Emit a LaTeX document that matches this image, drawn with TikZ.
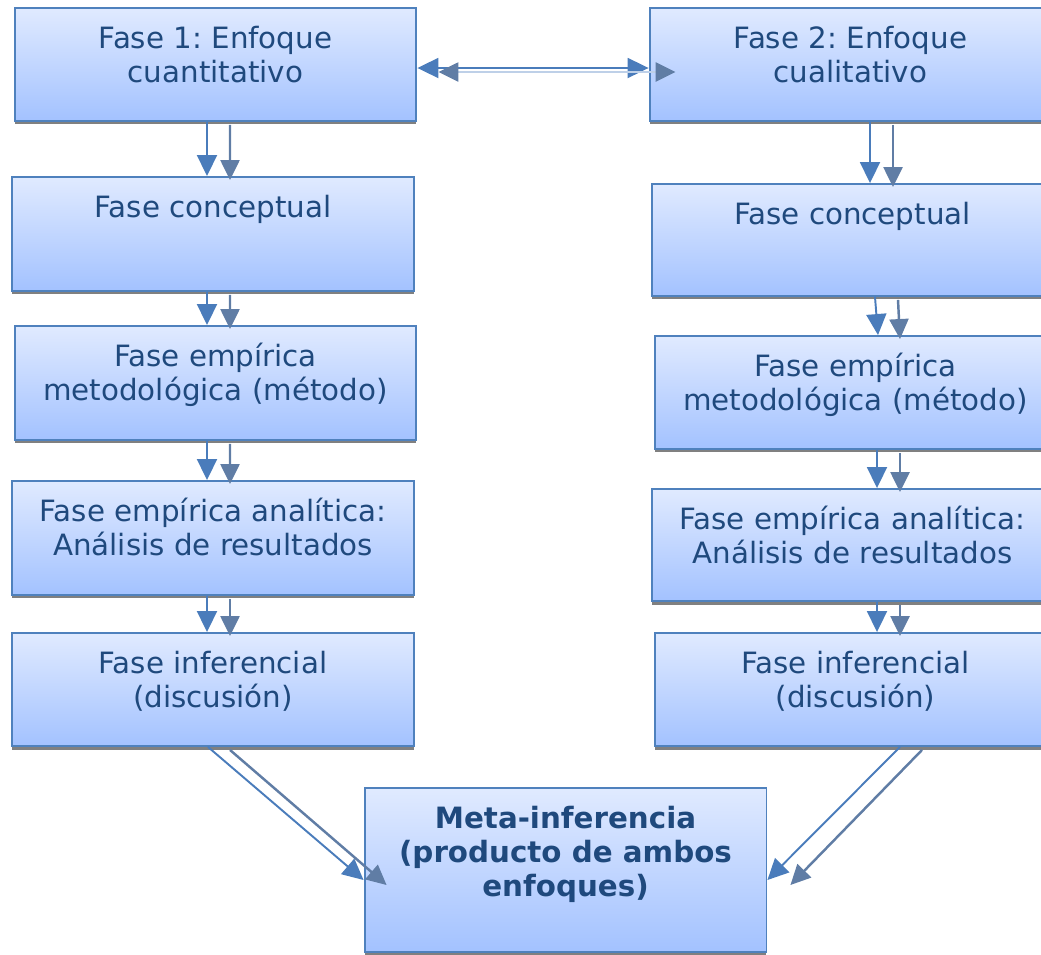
\documentclass[tikz,border=0pt]{standalone}
\usepackage{fontspec}
\setmainfont{DejaVu Sans}
\frenchspacing
\usetikzlibrary{arrows.meta,calc,shadows}

\definecolor{bordecaja}{RGB}{79,129,189}
\definecolor{cajaarriba}{RGB}{224,234,255}
\definecolor{cajaabajo}{RGB}{163,194,255}
\definecolor{textocaja}{RGB}{31,73,125}
\definecolor{flechaazul}{RGB}{74,124,187}
\definecolor{flechagris}{RGB}{96,125,165}
\definecolor{flechaclara}{RGB}{190,208,232}
\definecolor{sombra}{RGB}{128,128,128}

% texto arriba dentro de la caja
\newcommand{\caja}[2][2.26cm]{\parbox[c][#1][t]{7.9cm}{\centering\rule{0pt}{0.8cm}#2}}

\begin{document}
\begin{tikzpicture}[x=0.02cm, y=-0.02cm,
  fase/.style = {draw=bordecaja, line width=1.1pt, top color=cajaarriba, bottom color=cajaabajo, minimum width=8.04cm, inner sep=0pt, text=textocaja, font=\fontsize{16.7}{19.6}\selectfont, drop shadow={shadow xshift=0pt, shadow yshift=-0.07cm, fill=sombra, opacity=1}},
  flecha/.style = {draw=flechaazul, line width=1.1pt, -{Triangle[length=0.42cm, width=0.4cm]}},
  flecha2/.style = {draw=flechagris, line width=1.4pt, -{Triangle[length=0.4cm, width=0.38cm]}}]

    \clip (0,0) rectangle (1041,954);

    \node[fase] (l1) at (215.5,64.5) {\caja{Fase 1: Enfoque\\cuantitativo}};
    \node[fase] (l2) at (213,234) {\caja[2.28cm]{Fase conceptual}};
    \node[fase] (l3) at (215.5,383) {\caja[2.28cm]{Fase empírica\\metodológica (método)}};
    \node[fase] (l4) at (213,538) {\caja[2.28cm]{Fase empírica analítica:\\Análisis de resultados}};
    \node[fase] (l5) at (213,689.5) {\caja{Fase inferencial\\(discusión)}};

    \node[fase] (r1) at (850.5,64.5) {\caja{Fase 2: Enfoque\\cualitativo}};
    \node[fase] (r2) at (852.5,240) {\caja[2.24cm]{Fase conceptual}};
    \node[fase] (r3) at (855.5,392.5) {\caja{Fase empírica\\metodológica (método)}};
    \node[fase] (r4) at (852.5,545) {\caja[2.24cm]{Fase empírica analítica:\\Análisis de resultados}};
    \node[fase] (r5) at (855.5,689.5) {\caja{Fase inferencial\\(discusión)}};

    \node[fase, font=\bfseries\fontsize{16.7}{19.6}\selectfont] (meta) at (565.5,870) {\caja[3.28cm]{Meta-inferencia\\(producto de ambos\\enfoques)}};

    % entre los dos enfoques
    \draw[flecha, {Triangle[length=0.42cm, width=0.4cm]}-{Triangle[length=0.42cm, width=0.4cm]}] ($(l1.east)+(0,3.5)$) -- ($(r1.west)+(0,3.5)$);
    \draw[draw=flechaclara, line width=1.4pt, {Triangle[length=0.4cm, width=0.38cm, color=flechagris]}-{Triangle[length=0.4cm, width=0.38cm, color=flechagris]}] ($(l1.east)+(21,7.5)$) -- ($(r1.west)+(27,7.5)$);

    % columna izquierda
    \draw[flecha] ($(l1.south)+(-8.5,0)$) -- ($(l2.north)+(-6,0)$);
    \draw[flecha2] ($(l1.south)+(14.5,3)$) -- ($(l2.north)+(17,4)$);
    \draw[flecha] ($(l2.south)+(-6,0)$) -- ($(l3.north)+(-8.5,0)$);
    \draw[flecha2] ($(l2.south)+(17,3)$) -- ($(l3.north)+(14.5,4)$);
    \draw[flecha] ($(l3.south)+(-8.5,0)$) -- ($(l4.north)+(-6,0)$);
    \draw[flecha2] ($(l3.south)+(14.5,3)$) -- ($(l4.north)+(17,4)$);
    \draw[flecha] ($(l4.south)+(-6,0)$) -- ($(l5.north)+(-6,0)$);
    \draw[flecha2] ($(l4.south)+(17,3)$) -- ($(l5.north)+(17,4)$);

    % columna derecha
    \draw[flecha] ($(r1.south)+(19.5,0)$) -- ($(r2.north)+(17.5,0)$);
    \draw[flecha2] ($(r1.south)+(42.5,3)$) -- ($(r2.north)+(40.5,4)$);
    \draw[flecha] ($(r2.south)+(22.5,0)$) -- ($(r3.north)+(22.5,0)$);
    \draw[flecha2] ($(r2.south)+(45.5,3)$) -- ($(r3.north)+(44.5,4)$);
    \draw[flecha] ($(r3.south)+(21.5,0)$) -- ($(r4.north)+(24.5,0)$);
    \draw[flecha2] ($(r3.south)+(44.5,3)$) -- ($(r4.north)+(47.5,4)$);
    \draw[flecha] ($(r4.south)+(24.5,0)$) -- ($(r5.north)+(21.5,0)$);
    \draw[flecha2] ($(r4.south)+(47.5,3)$) -- ($(r5.north)+(44.5,4)$);

    % hacia la meta-inferencia
    \draw[flecha] ($(l5.south)+(-5,0)$) -- ($(meta.west)+(0,10)$);
    \draw[flecha2] ($(l5.south)+(17,3)$) -- ($(meta.west)+(23,15)$);
    \draw[flecha] ($(r5.south)+(44.5,0)$) -- ($(meta.east)+(0,10)$);
    \draw[flecha2] ($(r5.south)+(66.5,3)$) -- ($(meta.east)+(23,15)$);

\end{tikzpicture}
\end{document}
